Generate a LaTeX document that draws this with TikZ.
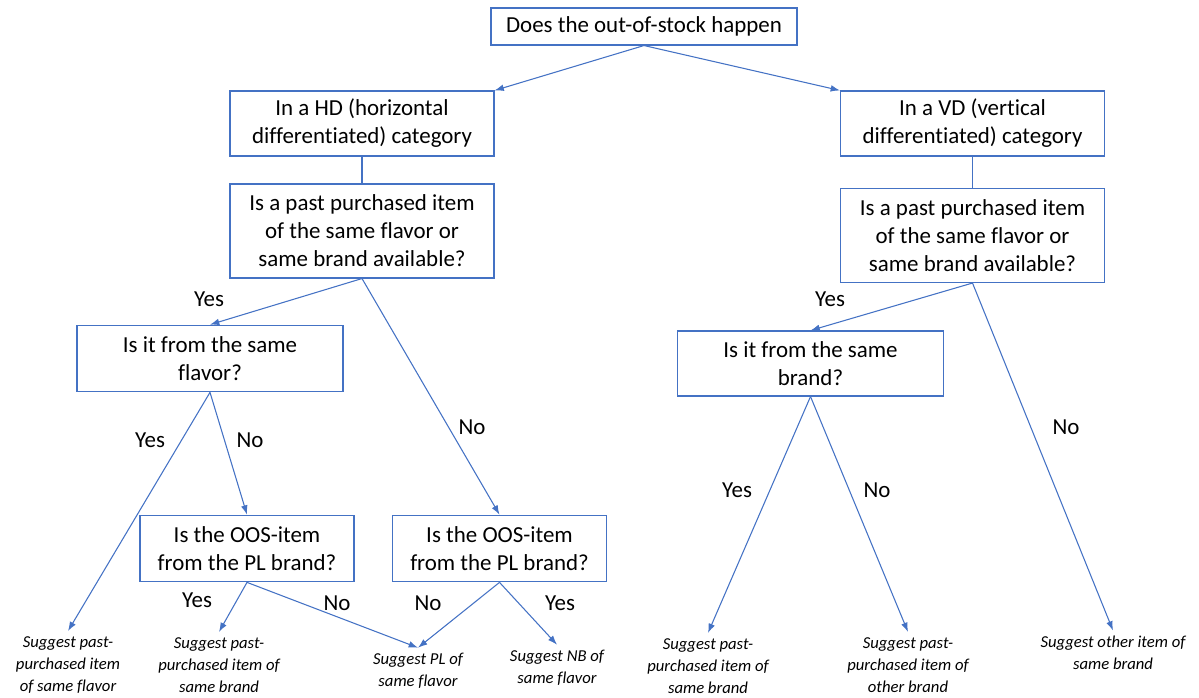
\documentclass[tikz,border=0pt]{standalone}
\usepackage{fontspec}
\setmainfont{Carlito}[Ligatures=CommonOff]
\usetikzlibrary{arrows.meta}

\definecolor{oosblue}{RGB}{68,114,196}

\tikzstyle{block}=[rectangle,
    draw=oosblue,
    line width=0.8pt,
    align=center,
    inner sep=2pt,
    font=\fontsize{17.2}{21}\selectfont]
\tikzstyle{leaf}=[align=center,
    inner sep=4pt,
    font=\fontsize{12.5}{16.5}\selectfont\itshape]
\tikzstyle{answer}=[font=\fontsize{17.2}{21}\selectfont]
\tikzstyle{arrow}=[draw=oosblue,
    line width=0.8pt,
    -{Latex[length=7pt,width=5pt]}]
\tikzstyle{link}=[draw=oosblue,
    line width=0.8pt]

\begin{document}
\begin{tikzpicture}[x=0.75pt,y=-0.75pt]
    \useasboundingbox (0,0) rectangle (1199,697);
    % question boxes
    \node (stock) [block, minimum width=229.5pt, minimum height=27.75pt] at (644,26.5) {Does the out-of-stock happen};
    \node (hd) [block, minimum width=198pt, minimum height=48.75pt] at (362,123.5) {In a HD (horizontal\\differentiated) category};
    \node (vd) [block, minimum width=198pt, minimum height=48.75pt] at (972.5,123.5) {In a VD (vertical\\differentiated) category};
    \node (hdq) [block, minimum width=198pt, minimum height=70.5pt] at (362,231) {Is a past purchased item\\of the same flavor or\\same brand available?};
    \node (vdq) [block, minimum width=198pt, minimum height=70.5pt] at (972.5,235.5) {Is a past purchased item\\of the same flavor or\\same brand available?};
    \node (flavor) [block, minimum width=199.5pt, minimum height=50pt] at (210,358.5) {Is it from the same\\flavor?};
    \node (brand) [block, minimum width=199.5pt, minimum height=48.75pt] at (810.5,363.5) {Is it from the same\\brand?};
    \node (oosa) [block, minimum width=160.5pt, minimum height=50pt] at (247,548.5) {Is the OOS-item\\from the PL brand?};
    \node (oosb) [block, minimum width=160.5pt, minimum height=50pt] at (499.5,548.5) {Is the OOS-item\\from the PL brand?};
    % suggestions
    \node (sugflavor) [leaf] at (68,665) {Suggest past-\\purchased item\\of same flavor};
    \node (sugbrand) [leaf] at (219,665) {Suggest past-\\purchased item of\\same brand};
    \node (sugpl) [leaf] at (418,671) {Suggest PL of\\same flavor};
    \node (sugnb) [leaf] at (557,668) {Suggest NB of\\same flavor};
    \node (sugsame) [leaf] at (708,666) {Suggest past-\\purchased item of\\same brand};
    \node (sugother) [leaf] at (908,665) {Suggest past-\\purchased item of\\other brand};
    \node (sugitem) [leaf] at (1113,653) {Suggest other item of\\same brand};
    % answers
    \node (yesa) [answer] at (209,299) {Yes};
    \node (yesb) [answer] at (150,440) {Yes};
    \node (noa) [answer] at (250,440) {No};
    \node (nob) [answer] at (472,427) {No};
    \node (yesc) [answer] at (197,600) {Yes};
    \node (noc) [answer] at (337,603) {No};
    \node (nod) [answer] at (428,603) {No};
    \node (yesd) [answer] at (560,603) {Yes};
    \node (yese) [answer] at (830,299) {Yes};
    \node (noe) [answer] at (1066,427) {No};
    \node (yesf) [answer] at (737,490) {Yes};
    \node (nof) [answer] at (877,490) {No};
    % connectors
    \draw [arrow] (stock.south) -- (hd.north east);
    \draw [arrow] (stock.south) -- (vd.north west);
    \draw [link] (hd) -- (hdq);
    \draw [link] (vd) -- (vdq);
    \draw [arrow] (hdq.south) -- (flavor.north);
    \draw [arrow] (hdq.south) -- (oosb.north);
    \draw [arrow] (flavor.south) -- (sugflavor.north);
    \draw [arrow] (flavor.south) -- (oosa.north);
    \draw [arrow] (oosa.south) -- (sugbrand.north);
    \draw [arrow] (oosa.south) -- (sugpl.north);
    \draw [arrow] (oosb.south) -- (sugpl.north);
    \draw [arrow] (oosb.south) -- (sugnb.north);
    \draw [arrow] (vdq.south) -- (brand.north);
    \draw [arrow] (vdq.south) -- (sugitem.north);
    \draw [arrow] (brand.south) -- (sugsame.north);
    \draw [arrow] (brand.south) -- (sugother.north);
\end{tikzpicture}
\end{document}
